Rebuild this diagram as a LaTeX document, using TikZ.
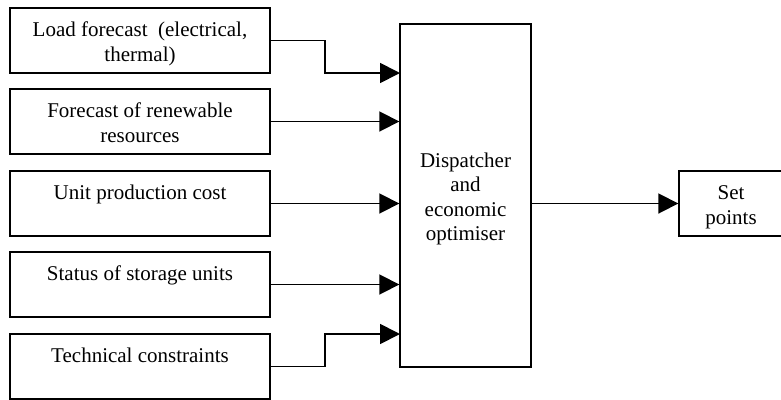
\documentclass[tikz,border=0pt]{standalone}
\usepackage{fontspec}
\setmainfont{Liberation Serif}
\usetikzlibrary{arrows.meta}

% invisible rules that fix the first baseline and last depth of a box text
\newcommand{\toprule}{\rule{0pt}{22pt}}
\newcommand{\botrule}{\rule[-5pt]{0pt}{5pt}}

\begin{document}
\begin{tikzpicture}[x=1pt,y=-1pt, font=\fontsize{21}{24.5}\selectfont]
    \tikzstyle{box}=[draw, line width=1.4pt, align=center, inner sep=0pt]
    \tikzstyle{input box}=[box, minimum width=260pt, minimum height=65pt]
    \tikzstyle{conn}=[line width=1.8pt, -{Triangle[length=20pt,width=20pt]}]

    \useasboundingbox (0,0) rectangle (781,399);

    \node[input box] (I-1) at (140,40.5) {\toprule Load forecast\ \ (electrical,\\thermal)\botrule};
    \node[input box] (I-2) at (140,121.5) {\toprule Forecast of renewable\\resources\botrule};
    \node[input box] (I-3) at (140,203.5) {\toprule Unit production cost\\\botrule};
    \node[input box] (I-4) at (140,284.5) {\toprule Status of storage units\\\botrule};
    \node[input box] (I-5) at (140,366.5) {\toprule Technical constraints\\\botrule};

    \node[box, minimum width=131pt, minimum height=343pt] (D) at (465.5,195.5)
        {\toprule Dispatcher\\and\\economic\\optimiser\botrule};
    \node[box, minimum width=104pt, minimum height=65pt] (S) at (731,203.5) {\toprule Set\\points\botrule};

    \coordinate (in-1) at (400,73);
    \coordinate (in-5) at (400,334);

    \draw[conn] (I-1.east) -| ([xshift=-75pt]in-1) -- (in-1);
    \foreach \name in {2,3,4}
        \draw[conn] (I-\name.east) -- (I-\name.east -| D.west);
    \draw[conn] (I-5.east) -| ([xshift=-75pt]in-5) -- (in-5);

    \draw[conn] (D.east |- S.west) -- (S.west);
\end{tikzpicture}
\end{document}
